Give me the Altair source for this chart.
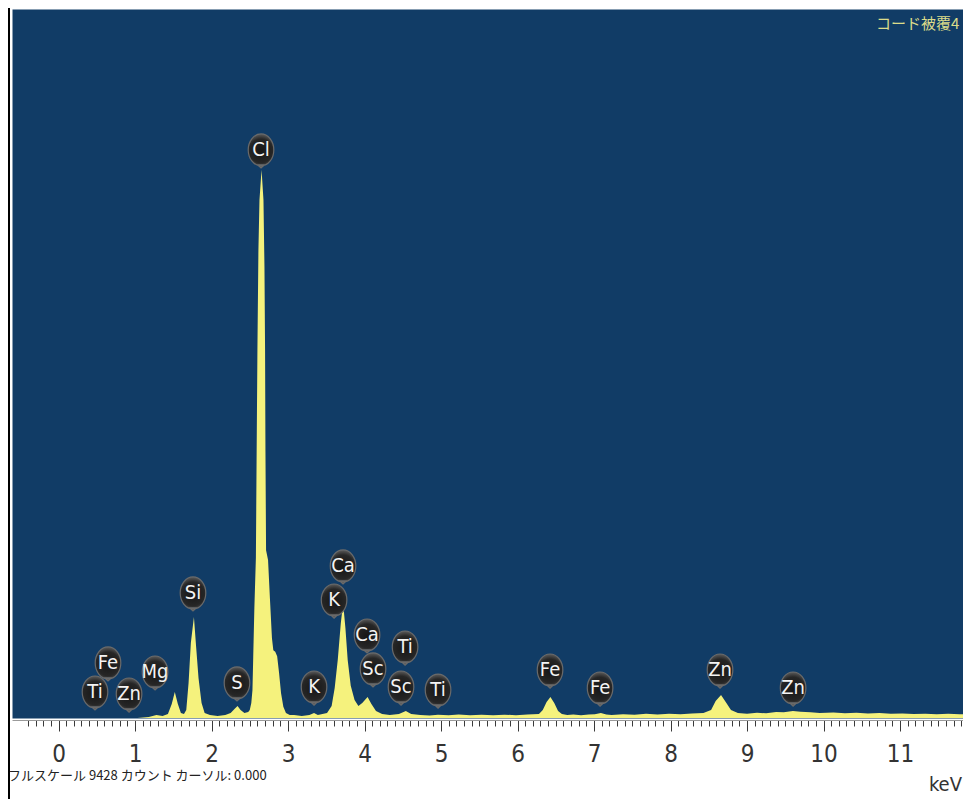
import json
import altair as alt
import pandas as pd

# ---------------- data ----------------
energy = [-0.61, 0.50, 1.03, 1.18, 1.28, 1.36, 1.43, 1.48, 1.52, 1.56, 1.60, 1.64,
          1.67, 1.70, 1.73, 1.77, 1.80, 1.83, 1.87, 1.91, 1.98, 2.08, 2.18, 2.25,
          2.30, 2.34, 2.38, 2.43, 2.48, 2.50, 2.52, 2.535, 2.545, 2.56, 2.58, 2.59,
          2.60, 2.613, 2.627, 2.654, 2.679, 2.692, 2.70, 2.705, 2.713, 2.739, 2.763,
          2.79, 2.808, 2.833, 2.858, 2.883, 2.909, 2.939, 2.973, 3.023, 3.08, 3.18,
          3.28, 3.34, 3.39, 3.45, 3.51, 3.57, 3.61, 3.65, 3.69, 3.72, 3.75, 3.78,
          3.82, 3.87, 3.92, 3.97, 4.04, 4.09, 4.15, 4.23, 4.33, 4.45, 4.54, 4.61,
          4.73, 4.85, 4.96, 5.10, 5.23, 5.38, 5.53, 5.68, 5.83, 5.98, 6.13, 6.28,
          6.33, 6.38, 6.43, 6.48, 6.53, 6.58, 6.65, 6.73, 6.83, 6.93, 7.01, 7.09,
          7.16, 7.23, 7.38, 7.53, 7.68, 7.83, 7.98, 8.13, 8.28, 8.43, 8.53, 8.59,
          8.66, 8.73, 8.79, 8.88, 9.00, 9.13, 9.25, 9.38, 9.48, 9.60, 9.70, 9.83,
          9.95, 10.13, 10.28, 10.43, 10.58, 10.73, 10.88, 11.03, 11.18, 11.33,
          11.48, 11.63, 11.78, 11.93]
counts = [0, 0, 0, 13, 40, 27, 53, 186, 346, 186, 67, 53,
          106, 466, 1000, 1343, 931, 532, 200, 67, 40, 27, 40, 67,
          120, 160, 106, 67, 80, 106, 200, 370, 800, 1460, 2130, 3560,
          4890, 6220, 6890, 7290, 6890, 6000, 4890, 3560, 2230, 2100, 1600,
          1060, 900, 880, 820, 600, 330, 150, 67, 40, 40, 27,
          40, 67, 40, 53, 67, 160, 400, 770, 1260, 1530, 1200, 770,
          430, 240, 160, 200, 280, 186, 93, 53, 40, 53, 93, 53,
          40, 33, 44, 36, 45, 35, 42, 36, 44, 38, 45, 53,
          106, 213, 280, 200, 93, 53, 40, 46, 38, 45, 50, 67,
          47, 40, 50, 44, 55, 48, 58, 50, 60, 67, 106, 226,
          306, 200, 106, 67, 58, 70, 62, 80, 75, 93, 82, 75,
          68, 72, 62, 70, 60, 66, 56, 60, 52, 58,
          50, 55, 50, 54]

label_energy = [0.477, 0.647, 0.922, 1.262, 1.758, 2.333, 2.647, 3.340, 3.719, 3.602,
                4.033, 4.111, 4.530, 4.477, 4.961, 6.425, 7.079, 8.647, 9.602]
label_counts = [346, 732, 319, 612, 1663, 466, 7554, 412, 2022, 1569,
                1104, 652, 944, 412, 372, 638, 399, 638, 399]
label_text = ["Ti", "Fe", "Zn", "Mg", "Si", "S", "Cl", "K", "Ca", "K",
              "Ca", "Sc", "Ti", "Sc", "Ti", "Fe", "Fe", "Zn", "Zn"]

tick_labels = [0, 1, 2, 3, 4, 5, 6, 7, 8, 9, 10, 11]
full_scale = 9428
title_text = "コード被覆4"
footer_text = "フルスケール 9428 カウント カーソル: 0.000"
unit_text = "keV"

# ---------------- styling ----------------
BLUE = "#113c66"
YELLOW = "#f5f27d"
NARROW = "Liberation Sans Narrow, DejaVu Sans Condensed, Arial Narrow, sans-serif"
CJK = "Liberation Sans Narrow, Noto Sans CJK JP, sans-serif"

spec = pd.DataFrame({"keV": energy, "counts": counts})
labels = pd.DataFrame({"keV": label_energy, "counts": label_counts, "el": label_text})

x_scale = alt.Scale(domain=[-0.608, 11.823], nice=False, zero=False)
y_scale = alt.Scale(domain=[0, full_scale], nice=False, zero=False)

minor_ticks = [round(-0.4 + 0.1 * i, 1) for i in range(123)]
is_major = f"indexof({json.dumps(tick_labels)}, datum.value) >= 0"

x_axis = alt.Axis(
    values=minor_ticks, tickCount=400, title=None, grid=False, orient="bottom", offset=2,
    domain=True, domainColor="#9a9a9a", domainWidth=1,
    ticks=True, tickColor="#3a3a3a", tickWidth=1,
    tickSize={"condition": {"test": is_major, "value": 11}, "value": 6},
    labelExpr=f"{is_major} ? format(datum.value, 'd') : ''",
    labelFont=NARROW, labelFontSize=24, labelColor="#333333", labelPadding=11,
    labelOverlap=False, labelFlush=False, labelBound=False,
)

area = alt.Chart(spec).mark_area(color=YELLOW, opacity=1, interpolate="linear", clip=True).encode(
    x=alt.X("keV:Q", scale=x_scale, axis=x_axis),
    y=alt.Y("counts:Q", scale=y_scale, axis=None),
)

PIN = ("M0,-1 A0.8,1 0 1,1 0,1 A0.8,1 0 1,1 0,-1 Z "
       "M-0.22,0.93 L0,1.13 L0.22,0.93 Z")
gradient = {"gradient": "radial",
            "stops": [{"offset": 0, "color": "#161616"},
                      {"offset": 0.7, "color": "#262626"},
                      {"offset": 1, "color": "#5c5c5c"}]}

bubbles = alt.Chart(labels).mark_point(
    shape=PIN, size=1024, filled=True, fill=gradient, stroke="#6a6a6a",
    strokeWidth=1.2, opacity=1, fillOpacity=1,
).encode(x=alt.X("keV:Q", scale=x_scale), y=alt.Y("counts:Q", scale=y_scale))

bubble_text = alt.Chart(labels).mark_text(
    font=NARROW, fontSize=20, color="#f4f4f4", align="center", baseline="middle",
).encode(x=alt.X("keV:Q", scale=x_scale), y=alt.Y("counts:Q", scale=y_scale), text="el:N")

title = alt.Chart(pd.DataFrame({"t": [title_text]})).mark_text(
    font=CJK, fontSize=15, color="#dcdc8a", align="left", baseline="middle",
).encode(x=alt.value(864), y=alt.value(15), text="t:N")

footer = alt.Chart(pd.DataFrame({"t": [footer_text]})).mark_text(
    font=CJK, fontSize=13, color="#222222", align="left", baseline="middle",
).encode(x=alt.value(-4), y=alt.value(767), text="t:N")

unit = alt.Chart(pd.DataFrame({"t": [unit_text]})).mark_text(
    font=NARROW, fontSize=20, color="#333333", align="right", baseline="middle",
).encode(x=alt.value(950), y=alt.value(776), text="t:N")

border = alt.Chart(pd.DataFrame({"a": [0]})).mark_rule(color="black", strokeWidth=2).encode(
    x=alt.value(-3), y=alt.value(-10), y2=alt.value(790)
)

chart = alt.layer(area, bubbles, bubble_text, title, footer, unit, border).properties(
    width=951, height=709,
    padding={"left": 4, "top": 1, "right": 0, "bottom": 81},
    autosize=alt.AutoSizeParams(type="none"),
).configure_view(fill=BLUE, stroke="transparent")

chart.save("out.html", embed_options={"renderer": "svg", "actions": False})
